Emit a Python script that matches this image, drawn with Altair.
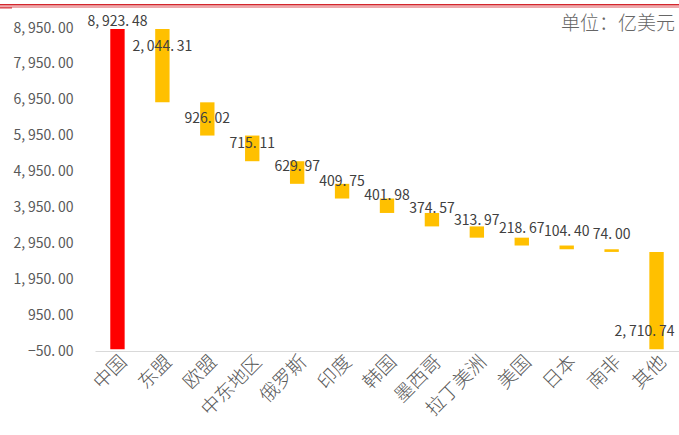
import altair as alt
import pandas as pd

# Export destinations and values (100 million USD)
categories = ["中国", "东盟", "欧盟", "中东地区", "俄罗斯", "印度", "韩国",
              "墨西哥", "拉丁美洲", "美国", "日本", "南非", "其他"]
values = [8923.48, 2044.31, 926.02, 715.11, 629.97, 409.75, 401.98,
          374.57, 313.97, 218.67, 104.40, 74.00, 2710.74]
y_ticks = [-50, 950, 1950, 2950, 3950, 4950, 5950, 6950, 7950, 8950]
unit_note = "单位：亿美元"

W, H = 584, 323
TOP = 28
Y_MIN, Y_MAX = -50, 8950
unit = (Y_MAX - Y_MIN) / H  # data units per pixel

# Waterfall: first bar is the total, the rest step down from it
rows = []
level = values[0]
for i, (c, v) in enumerate(zip(categories, values)):
    if i == 0:
        top, bottom, kind = v, 0.0, "total"
    else:
        top, bottom, kind = level, level - v, "part"
        level = bottom
    rows.append({"cat": c, "value": v, "top": top, "bottom": bottom, "kind": kind, "idx": i})
df = pd.DataFrame(rows)

# Label anchor: above the total, inside the top of the first step,
# otherwise just above the lower end of each step
def label_pos(r):
    if r["idx"] == 0:
        return r["top"] + 7 * unit
    if r["idx"] == 1:
        return r["top"] - 18 * unit
    return r["bottom"] + 17 * unit

df["label_y"] = df.apply(label_pos, axis=1)

FONT = "Noto Sans CJK SC"
# widen the separators a little: "8, 950. 00"
SPACED = "replace(replace({s}, ',', ',\u2009'), '.', '.\u2009')"

x_axis = alt.Axis(title=None, labelAngle=-45, labelAlign="right",
                  labelBaseline="top", labelFontSize=19, labelFontWeight=300,
                  labelColor="#595959", labelFont=FONT,
                  domainColor="#d9d9d9", domainWidth=1,
                  ticks=False, labelPadding=1)
y_axis = alt.Axis(title=None, values=y_ticks, tickCount=len(y_ticks) + 2,
                  format=",.2f", labelExpr=SPACED.format(s="datum.label"),
                  labelOverlap=False, grid=False, domain=False, ticks=False,
                  labelFontSize=14, labelColor="#595959",
                  labelFont=FONT, labelPadding=22)

x_scale = alt.Scale(paddingInner=0.68, paddingOuter=0.34)
y_scale = alt.Scale(domain=[Y_MIN, Y_MAX], nice=False, zero=False)

bars = alt.Chart(df).mark_bar(clip=True).encode(
    x=alt.X("cat:N", sort=categories, scale=x_scale, axis=x_axis),
    y=alt.Y("top:Q", scale=y_scale, axis=y_axis),
    y2="bottom:Q",
    color=alt.Color("kind:N", scale=alt.Scale(domain=["total", "part"],
                                              range=["#FF0000", "#FFC000"]),
                    legend=None),
)

text_style = dict(fontSize=14, color="#404040", font=FONT, baseline="middle")

base_labels = alt.Chart(df).transform_calculate(
    txt=SPACED.format(s="format(datum.value, ',.2f')")
)

labels = base_labels.transform_filter(alt.datum.idx < 12).mark_text(
    align="center", **text_style).encode(
    x=alt.X("cat:N", sort=categories, scale=x_scale, axis=x_axis),
    y=alt.Y("label_y:Q", scale=y_scale, axis=y_axis),
    text="txt:N",
)

last_label = base_labels.transform_filter(alt.datum.idx == 12).mark_text(
    align="center", dx=-12, **text_style).encode(
    x=alt.X("cat:N", sort=categories, scale=x_scale, axis=x_axis),
    y=alt.Y("label_y:Q", scale=y_scale, axis=y_axis),
    text="txt:N",
)

# Unit note in the top-right corner
note = alt.Chart(pd.DataFrame({"t": [unit_note]})).mark_text(
    align="right", baseline="middle", fontSize=19, fontWeight=300,
    color="#666666", font=FONT
).encode(x=alt.value(W - 4), y=alt.value(24 - TOP), text="t:N")

# Red double rule across the top of the page
rule_thick = alt.Chart().mark_rule(color="#D4262D", strokeWidth=1.6).encode(
    x=alt.value(-95), x2=alt.value(W + 1), y=alt.value(4.7 - TOP))
rule_thin = alt.Chart().mark_rule(color="#D4262D", strokeWidth=0.8).encode(
    x=alt.value(-95), x2=alt.value(W + 1), y=alt.value(7.0 - TOP))
rule_stub = alt.Chart().mark_rule(color="#D4262D", strokeWidth=1.1).encode(
    x=alt.value(-95), x2=alt.value(-83), y=alt.value(7.9 - TOP))

chart = alt.layer(bars, labels, last_label, note, rule_thick, rule_thin, rule_stub).properties(
    width=W, height=H,
    autosize=alt.AutoSizeParams(type="none"),
    padding={"left": 95, "top": TOP, "right": 0, "bottom": 84},
).configure(background="white").configure_view(stroke=None)

chart.save("out.html", embed_options={"renderer": "svg", "actions": False})
